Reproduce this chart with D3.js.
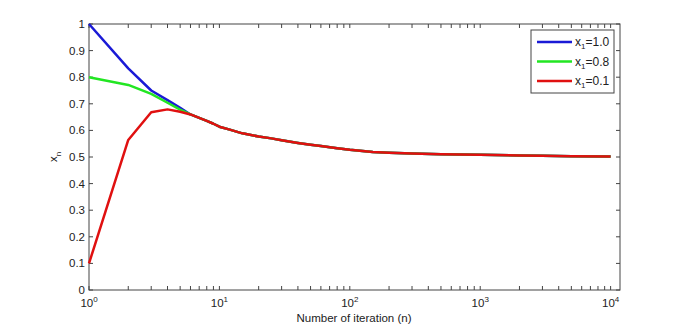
<!DOCTYPE html>
<html lang="en">
<head>
<meta charset="utf-8">
<title>x_n vs iteration</title>
<script src="https://cdn.jsdelivr.net/npm/d3@7"></script>
<style>
  body { margin: 0; background: #fff; }
  text { font-family: "Liberation Sans", Arial, sans-serif; fill: #222; }
</style>
</head>
<body>
<script>
// iteration numbers
const iterN = [1, 2, 3, 4, 5, 6, 7, 8, 9, 10, 12, 15, 20, 25, 30, 40, 50, 60, 80, 100,
               150, 200, 300, 500, 700, 1000, 2000, 3000, 5000, 10000];

// shared tail from n=6 onwards (all three runs overlap there)
const tail = [0.660, 0.647, 0.636, 0.625, 0.614, 0.603, 0.589, 0.577, 0.570, 0.563,
              0.553, 0.546, 0.541, 0.533, 0.527, 0.519, 0.516, 0.513, 0.510, 0.509,
              0.508, 0.506, 0.505, 0.503, 0.502];

const seriesNames = ["x\u2081=1.0", "x\u2081=0.8", "x\u2081=0.1"];
const seriesColors = ["#1a1ad6", "#22e622", "#e01010"];
const seriesHeads = [
  [1.0, 0.833, 0.750, 0.714, 0.685],
  [0.8, 0.771, 0.737, 0.704, 0.678],
  [0.1, 0.564, 0.668, 0.679, 0.670]
];

const yTicks = [0, 0.1, 0.2, 0.3, 0.4, 0.5, 0.6, 0.7, 0.8, 0.9, 1];
const xDecades = [0, 1, 2, 3, 4];

const w = 685, h = 326;
const mLeft = 89, mRight = 620, mTop = 24, mBottom = 290;

const svg = d3.select("body").append("svg")
  .attr("width", w).attr("height", h);

const x = d3.scaleLog().domain([1, Math.pow(10, 4.072)]).range([mLeft, mRight]);
const y = d3.scaleLinear().domain([0, 1]).range([mBottom, mTop]);

const axisColor = "#444";
const tickLen = 4;
const fs = "11.5px";

// frame
svg.append("rect")
  .attr("x", mLeft).attr("y", mTop)
  .attr("width", mRight - mLeft).attr("height", mBottom - mTop)
  .attr("fill", "none").attr("stroke", axisColor).attr("stroke-width", 1);

// x ticks (major + minor), inward, bottom and top
let xt = [];
xDecades.forEach(d => {
  for (let m = 1; m <= 9; m++) {
    const v = m * Math.pow(10, d);
    if (v <= x.domain()[1]) xt.push(v);
  }
});
xt.forEach(v => {
  const px = x(v);
  svg.append("line").attr("x1", px).attr("x2", px)
    .attr("y1", mBottom).attr("y2", mBottom - tickLen).attr("stroke", axisColor);
  svg.append("line").attr("x1", px).attr("x2", px)
    .attr("y1", mTop).attr("y2", mTop + tickLen).attr("stroke", axisColor);
});

// x tick labels 10^k
xDecades.forEach(d => {
  const t = svg.append("text")
    .attr("x", x(Math.pow(10, d))).attr("y", 307)
    .attr("text-anchor", "middle")
    .style("font-size", fs);
  t.append("tspan").text("10");
  t.append("tspan").attr("dy", -5).style("font-size", "8px").text(d);
});

// y ticks
yTicks.forEach(v => {
  const py = y(v);
  svg.append("line").attr("x1", mLeft).attr("x2", mLeft + tickLen)
    .attr("y1", py).attr("y2", py).attr("stroke", axisColor);
  svg.append("line").attr("x1", mRight).attr("x2", mRight - tickLen)
    .attr("y1", py).attr("y2", py).attr("stroke", axisColor);
  svg.append("text")
    .attr("x", mLeft - 4).attr("y", py + 4)
    .attr("text-anchor", "end")
    .style("font-size", fs)
    .text(d3.format("")(v));
});

// axis labels
svg.append("text")
  .attr("x", 354).attr("y", 322)
  .attr("text-anchor", "middle")
  .style("font-size", fs)
  .text("Number of iteration (n)");

const yl = svg.append("text")
  .attr("transform", "translate(57," + y(0.5) + ") rotate(-90)")
  .attr("text-anchor", "middle")
  .style("font-size", fs);
yl.append("tspan").text("x");
yl.append("tspan").attr("dy", 4).style("font-size", "8px").text("n");

// lines
const line = d3.line()
  .x(d => x(d[0]))
  .y(d => y(d[1]));

seriesHeads.forEach((head, i) => {
  const vals = head.concat(tail);
  const pts = iterN.map((n, j) => [n, vals[j]]);
  svg.append("path")
    .datum(pts)
    .attr("d", line)
    .attr("fill", "none")
    .attr("stroke", seriesColors[i])
    .attr("stroke-width", 2.5)
    .attr("stroke-linejoin", "round");
});

// legend
const lg = svg.append("g");
lg.append("rect")
  .attr("x", 531).attr("y", 30).attr("width", 83).attr("height", 63)
  .attr("fill", "#fff").attr("stroke", axisColor);
seriesNames.forEach((name, i) => {
  const ly = 42 + i * 19.5;
  lg.append("line")
    .attr("x1", 537).attr("x2", 572).attr("y1", ly).attr("y2", ly)
    .attr("stroke", seriesColors[i]).attr("stroke-width", 2.5);
  const t = lg.append("text")
    .attr("x", 575).attr("y", ly + 4)
    .style("font-size", "12px");
  t.append("tspan").text("x");
  t.append("tspan").attr("dy", 3).style("font-size", "8px").text("1");
  t.append("tspan").attr("dy", -3).text("=" + name.split("=")[1]);
});
</script>
</body>
</html>
